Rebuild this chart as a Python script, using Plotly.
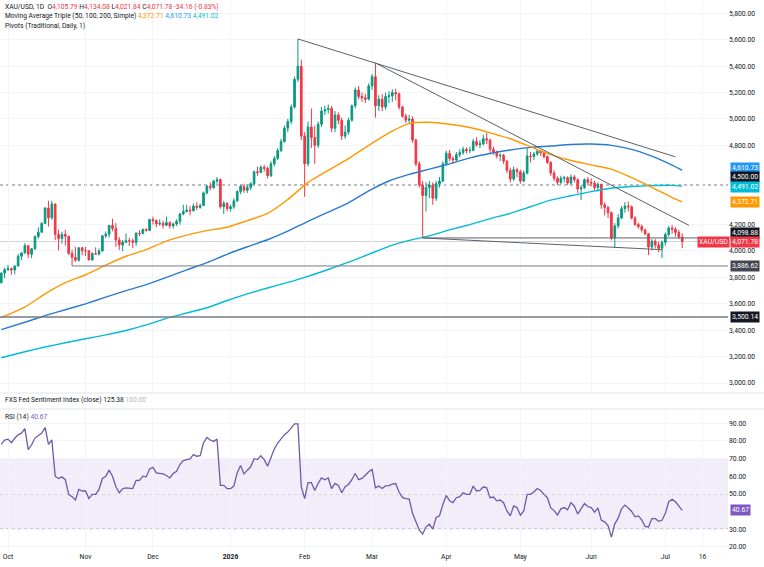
import pandas as pd
import plotly.graph_objects as go

# XAU/USD daily candles, Sep 29 2025 -> Jul 8 2026 (one value per trading day)
opens = [
    3760, 3833,
    # Oct
    3858, 3866, 3856, 3886, 3960, 3985, 4040, 3975, 4017, 4110, 4142, 4209, 4326, 4251, 4356, 4125, 4095, 4126, 4112, 3982, 3952, 3930, 4024,
    # Nov
    4002, 4001, 3932, 3980, 3977, 4000, 4115, 4127, 4194, 4171, 4084, 4045, 4066, 4078, 4077, 4065, 4135, 4131, 4164, 4156,
    # Dec
    4239, 4230, 4205, 4210, 4195, 4215, 4190, 4205, 4225, 4280, 4300, 4310, 4305, 4340, 4330, 4345, 4440, 4490, 4480, 4530, 4540, 4335, 4360,
    # Jan
    4320, 4335, 4380, 4450, 4490, 4460, 4480, 4510, 4600, 4595, 4635, 4625, 4570, 4660, 4700, 4760, 4830, 4930, 4980, 5090, 5300, 5400,
    # Feb
    4870, 4660, 4940, 4860, 4800, 4960, 5060, 5070, 5080, 4930, 5030, 4990, 4870, 4900, 4990, 5100, 5220, 5170, 5160, 5150,
    # Mar
    5250, 5320, 5100, 5150, 5090, 5170, 5175, 5200, 5190, 5090, 5020, 4990, 5000, 4840, 4660, 4500, 4420, 4480, 4500, 4400, 4510, 4530,
    # Apr
    4660, 4740, 4700, 4690, 4730, 4745, 4770, 4760, 4762, 4830, 4805, 4812, 4850, 4840, 4770, 4750, 4720, 4725, 4680, 4610, 4545, 4615,
    # May
    4600, 4530, 4590, 4720, 4715, 4735, 4755, 4745, 4715, 4670, 4590, 4550, 4520, 4550, 4555, 4515, 4560, 4540, 4470, 4480, 4540,
    # Jun
    4520, 4515, 4480, 4505, 4350, 4330, 4290, 4100, 4190, 4250, 4320, 4340, 4335, 4250, 4200, 4185, 4160, 4130, 4030, 4075, 4045, 4020,
    # Jul
    4065, 4125, 4175, 4165, 4140, 4105.79,
]
highs = [
    3836, 3872,
    3895, 3875, 3890, 3978, 3990, 4059, 4045, 4022, 4116, 4179, 4218, 4330, 4380, 4381, 4359, 4161, 4147, 4161, 4113, 4010, 4030, 4030, 4031,
    4030, 4005, 3990, 4028, 4020, 4118, 4148, 4196, 4245, 4211, 4106, 4083, 4133, 4100, 4094, 4141, 4157, 4170, 4172, 4240,
    4260, 4240, 4240, 4230, 4260, 4225, 4215, 4240, 4290, 4350, 4350, 4340, 4360, 4370, 4360, 4450, 4500, 4520, 4540, 4560, 4550, 4380, 4370,
    4350, 4400, 4460, 4500, 4510, 4500, 4520, 4610, 4640, 4650, 4650, 4640, 4680, 4720, 4780, 4850, 4950, 5000, 5110, 5320, 5606, 5450,
    4900, 4980, 5080, 4950, 4980, 5090, 5100, 5110, 5100, 5060, 5050, 5010, 4950, 5010, 5110, 5240, 5250, 5200, 5190, 5270,
    5340, 5424, 5180, 5190, 5200, 5210, 5225, 5230, 5200, 5100, 5040, 5030, 5020, 4850, 4680, 4530, 4520, 4530, 4520, 4530, 4560, 4680,
    4760, 4765, 4720, 4750, 4770, 4790, 4785, 4790, 4850, 4860, 4840, 4880, 4894, 4850, 4790, 4760, 4740, 4735, 4690, 4630, 4640, 4630,
    4615, 4610, 4780, 4750, 4750, 4770, 4765, 4755, 4725, 4680, 4610, 4565, 4570, 4570, 4565, 4580, 4575, 4550, 4500, 4550, 4560,
    4550, 4530, 4520, 4510, 4370, 4340, 4300, 4210, 4280, 4340, 4370, 4375, 4345, 4265, 4215, 4200, 4170, 4135, 4090, 4090, 4070, 4080,
    4140, 4190, 4197, 4180, 4160, 4134.08,
]
lows = [
    3755, 3793,
    3850, 3820, 3823, 3884, 3932, 3980, 3946, 3945, 4008, 4094, 4140, 4202, 4185, 4237, 4082, 4004, 4055, 4041, 3971, 3886.62, 3918, 3920, 3967,
    3962, 3930, 3928, 3970, 3966, 3995, 4099, 4102, 4150, 4032, 4008, 3998, 4060, 4038, 4022, 4040, 4113, 4130, 4147, 4150,
    4200, 4180, 4190, 4170, 4190, 4170, 4170, 4190, 4200, 4270, 4290, 4270, 4300, 4310, 4320, 4340, 4430, 4460, 4470, 4510, 4320, 4280, 4300,
    4300, 4320, 4370, 4430, 4440, 4440, 4460, 4500, 4570, 4590, 4600, 4550, 4560, 4640, 4690, 4750, 4820, 4900, 4960, 5080, 5280, 4840,
    4410, 4640, 4780, 4660, 4780, 4940, 5030, 5040, 4900, 4900, 4960, 4840, 4850, 4880, 4980, 5080, 5150, 5130, 5120, 5140,
    5220, 5010, 5060, 5060, 5070, 5120, 5130, 5140, 5070, 5010, 4970, 4970, 4820, 4640, 4480, 4098.88, 4300, 4400, 4350, 4380, 4480, 4520,
    4650, 4680, 4660, 4680, 4710, 4730, 4740, 4740, 4755, 4790, 4780, 4800, 4810, 4740, 4730, 4700, 4680, 4660, 4590, 4520, 4530, 4560,
    4510, 4520, 4580, 4670, 4690, 4720, 4720, 4700, 4660, 4570, 4530, 4500, 4505, 4520, 4500, 4505, 4520, 4440, 4386, 4470, 4500,
    4490, 4460, 4450, 4320, 4270, 4250, 4080, 4023, 4170, 4240, 4290, 4300, 4240, 4190, 4170, 4140, 4120, 3970, 4005, 4020, 3990, 3947,
    4040, 4110, 4130, 4110, 4090, 4021.84,
]
closes = [
    3833, 3858,
    3866, 3856, 3886, 3960, 3985, 4040, 3975, 4017, 4110, 4142, 4209, 4326, 4251, 4356, 4125, 4095, 4126, 4112, 3982, 3952, 3930, 4024, 4002,
    4001, 3932, 3980, 3977, 4000, 4115, 4127, 4194, 4171, 4084, 4045, 4066, 4078, 4077, 4065, 4135, 4131, 4164, 4156, 4239,
    4230, 4205, 4210, 4195, 4215, 4190, 4205, 4225, 4280, 4300, 4310, 4305, 4340, 4330, 4345, 4440, 4490, 4480, 4530, 4540, 4335, 4360, 4320,
    4335, 4380, 4450, 4490, 4460, 4480, 4510, 4600, 4595, 4635, 4625, 4570, 4660, 4700, 4760, 4830, 4930, 4980, 5090, 5300, 5400, 4870,
    4660, 4940, 4860, 4800, 4960, 5060, 5070, 5080, 4930, 5030, 4990, 4870, 4900, 4990, 5100, 5220, 5170, 5160, 5150, 5250,
    5320, 5100, 5150, 5090, 5170, 5175, 5200, 5190, 5090, 5020, 4990, 5000, 4840, 4660, 4500, 4420, 4480, 4500, 4400, 4510, 4530, 4660,
    4740, 4700, 4690, 4730, 4745, 4770, 4760, 4762, 4830, 4805, 4812, 4850, 4840, 4770, 4750, 4720, 4725, 4680, 4610, 4545, 4615, 4600,
    4530, 4590, 4720, 4715, 4735, 4755, 4745, 4715, 4670, 4590, 4550, 4520, 4550, 4555, 4515, 4560, 4540, 4470, 4480, 4540, 4520,
    4515, 4480, 4505, 4350, 4330, 4290, 4100, 4190, 4250, 4320, 4340, 4335, 4250, 4200, 4185, 4160, 4130, 4030, 4075, 4045, 4020, 4065,
    4125, 4175, 4165, 4140, 4105.79, 4071.78,
]

# RSI(14), one value per candle
rsi = [
    78, 80.5,
    81, 79, 81.5, 83.4, 84.4, 87, 75, 77.8, 81.6, 82.9, 84.4, 87.6, 78, 80.6, 60, 58.7, 59.6, 58, 49.7, 48.4, 46.5, 52.5, 51.6,
    51.6, 47.3, 49.7, 49.7, 52.5, 58.7, 60, 63.4, 60, 54, 50.6, 52.9, 53.4, 53.2, 53, 57.6, 57.6, 60, 59.6, 64.1,
    65, 61.9, 61.5, 61.3, 60.4, 59, 61.5, 62.8, 66.6, 68.8, 69.4, 69.8, 72.2, 71.3, 71.6, 79, 81.9, 80.5, 79.7, 81, 54.8, 54.8, 52.9,
    52.9, 54.4, 62, 66, 61.3, 63.4, 65.3, 69.9, 69.4, 71.6, 69.4, 65.6, 70.3, 75.4, 78.8, 81.5, 83.5, 85, 87.2, 89.6, 89.6, 54,
    47.3, 56.3, 56.3, 51.9, 55.9, 59, 58, 59, 52.9, 55.9, 54.8, 50.6, 54, 55.3, 58, 61.5, 58, 58.7, 60.5, 62.5,
    63.8, 53.4, 54.4, 53, 54.5, 54.6, 55.5, 55.8, 51, 48, 47.3, 47, 39, 34, 29.5, 27.2, 31.3, 32.8, 30, 36.6, 37.5, 44,
    49.1, 46, 45, 47.8, 48.4, 50.6, 49.7, 49.7, 54.4, 51.6, 51.9, 54, 53.4, 47.8, 48.2, 46, 46.5, 45, 40.3, 37.5, 43.1, 42.2,
    37.9, 40.3, 49.7, 49.7, 51, 53, 51.9, 49.7, 47.8, 42, 40.5, 38, 41.5, 42.2, 41, 45, 43, 38.5, 41.3, 44.5, 42.8,
    42.2, 39.6, 42, 35, 34.1, 32, 25.5, 33, 36.2, 41.5, 43.6, 42, 40, 37, 37.5, 35.2, 31.5, 31.2, 36, 36, 34.4, 35,
    39, 45.5, 46.9, 45.5, 43, 40.67,
]

# moving averages at every 6th candle (bar position in the lists above)
ma_bar = [0, 7, 13, 19, 25, 31, 37, 43, 49, 55, 61, 67, 73, 79, 85, 91, 97, 103, 109, 115,
          121, 127, 133, 139, 145, 151, 157, 163, 169, 175, 181, 187, 193, 199, 202]
ma50 = [3496, 3575, 3675, 3760, 3820, 3893, 3960, 4010, 4075, 4120,
        4154, 4180, 4230, 4285, 4390, 4520, 4610, 4700, 4800, 4895,
        4965, 4975, 4960, 4935, 4895, 4850, 4790, 4730, 4685, 4652,
        4620, 4555, 4482, 4405, 4372.71]
ma100 = [3405, 3460, 3510, 3555, 3600, 3650, 3700, 3745, 3800, 3857,
         3912, 3975, 4032, 4085, 4150, 4225, 4295, 4365, 4455, 4530,
         4580, 4620, 4660, 4705, 4738, 4765, 4785, 4795, 4807, 4810,
         4800, 4770, 4718, 4650, 4610.73]
ma200 = [3191, 3237, 3273, 3305, 3335, 3365, 3398, 3440, 3490, 3530,
         3570, 3625, 3675, 3720, 3762, 3808, 3860, 3915, 3975, 4035,
         4080, 4115, 4160, 4200, 4245, 4285, 4335, 4385, 4418, 4450,
         4475, 4488, 4495, 4497, 4491.02]

# drawn lines: (bar position, price)
trend_lines = [
    [(88, 5606), (200, 4713)],
    [(111, 5424), (204, 4194)],
    [(125, 4098.88), (196, 4010)],
]
level_4500 = 4500.00
level_mar_low = 4098.88
level_oct_low = 3886.62
level_3500 = 3500.14

price_ticks = [3000, 3200, 3400, 3600, 3800, 4000, 4200, 4800, 5000, 5200, 5400, 5600, 5800]
rsi_ticks = [20, 30, 50, 60, 70, 80, 90]
x_tick_bars = [2, 25, 45, 68, 90, 110, 132, 154, 175, 197, 208]
x_tick_text = ["Oct", "Nov", "Dec", "<b>2026</b>", "Feb", "Mar", "Apr", "May", "Jun", "Jul", "16"]

UP, DOWN = "#089981", "#F23645"
C50, C100, C200 = "#FF9800", "#2196F3", "#00BCD4"
C100_LINE = "#2A7BCE"
PURPLE = "#7E57C2"
TXT = "#131722"
GRID = "#F2F4F8"
FONT = "Roboto"
FS = 6.7      # header texts
FS_AX = 6.8   # scale labels

days = pd.bdate_range("2025-09-29", periods=240)
bar_dates = days[:len(closes)]


def d(k):
    return days[k].strftime("%Y-%m-%d")


x_start = (days[0] - pd.Timedelta(days=3) + pd.Timedelta(hours=15)).strftime("%Y-%m-%d %H:%M")
x_end = (days[215] + pd.Timedelta(hours=14)).strftime("%Y-%m-%d %H:%M")

PLOT_H = 567 - 16
PLOT_W = 764 - 36


def py(p):
    return 1 - p / PLOT_H


def px(p):
    return p / PLOT_W


fig = go.Figure()

fig.add_trace(go.Candlestick(
    x=bar_dates, open=opens, high=highs, low=lows, close=closes,
    increasing=dict(line=dict(color=UP, width=1), fillcolor=UP),
    decreasing=dict(line=dict(color=DOWN, width=1), fillcolor=DOWN),
    whiskerwidth=0, xaxis="x", yaxis="y", showlegend=False, hoverinfo="skip"
))

ma_dates = [bar_dates[k] for k in ma_bar]
for vals, col in [(ma200, C200), (ma100, C100_LINE), (ma50, C50)]:
    fig.add_trace(go.Scatter(
        x=ma_dates, y=vals, mode="lines",
        line=dict(color=col, width=1.4, shape="spline", smoothing=0.6),
        xaxis="x", yaxis="y", showlegend=False, hoverinfo="skip"
    ))

fig.add_trace(go.Scatter(
    x=bar_dates, y=rsi, mode="lines", line=dict(color="#6F5AA8", width=1.3),
    xaxis="x2", yaxis="y2", showlegend=False, hoverinfo="skip"
))

shapes = []
# horizontal levels
shapes.append(dict(type="line", xref="paper", yref="y", x0=0, x1=1, y0=level_4500, y1=level_4500,
                   line=dict(color="#787B86", width=1, dash="dot"), layer="below"))
shapes.append(dict(type="line", xref="paper", yref="y", x0=0, x1=1, y0=closes[-1], y1=closes[-1],
                   line=dict(color="#D1D4DC", width=1), layer="below"))
shapes.append(dict(type="line", xref="x", yref="y", x0=d(125), x1=x_end, y0=level_mar_low, y1=level_mar_low,
                   line=dict(color="#5D606B", width=1)))
shapes.append(dict(type="line", xref="x", yref="y", x0=d(21), x1=x_end, y0=level_oct_low, y1=level_oct_low,
                   line=dict(color="#787B86", width=1)))
shapes.append(dict(type="line", xref="paper", yref="y", x0=0, x1=1, y0=level_3500, y1=level_3500,
                   line=dict(color="#787B86", width=1.6)))
for (k0, p0), (k1, p1) in trend_lines:
    shapes.append(dict(type="line", xref="x", yref="y", x0=d(k0), y0=p0, x1=d(k1), y1=p1,
                       line=dict(color="#5D606B", width=1)))

# RSI band and levels
shapes.append(dict(type="rect", xref="paper", yref="y2", x0=0, x1=1, y0=30, y1=70,
                   fillcolor="rgba(126,87,194,0.1)", line=dict(width=0), layer="below"))
for lvl in (70, 50, 30):
    shapes.append(dict(type="line", xref="paper", yref="y2", x0=0, x1=1, y0=lvl, y1=lvl,
                       line=dict(color="#9598A1", width=1, dash="3px,3px"), layer="below"))

# pane separators
for sep in (393, 409):
    shapes.append(dict(type="line", xref="paper", yref="paper", x0=0, x1=764 / PLOT_W,
                       y0=py(sep), y1=py(sep), line=dict(color="#E0E3EB", width=1)))


def span(txt, col):
    return "<span style='color:%s'>%s</span>" % (col, txt)


annotations = []
header = [
    (7, "XAU/USD, 1D  O" + span("4,105.79", DOWN) + " H" + span("4,134.08", DOWN)
     + " L" + span("4,021.84", DOWN) + " C" + span("4,071.78", DOWN) + " " + span("-34.16 (-0.83%)", DOWN)),
    (16.5, "Moving Average Triple (50, 100, 200, Simple) " + span("4,372.71", C50) + " "
     + span("4,610.73", C100) + " " + span("4,491.02", C200)),
    (26, "Pivots (Traditional, Daily, 1)"),
    (400, "FXS Fed Sentiment Index (close) " + span("125.38", TXT) + " " + span("100.00", "#B2B5BE")),
    (417, "RSI (14) " + span("40.67", PURPLE)),
]
for y, txt in header:
    annotations.append(dict(xref="paper", yref="paper", x=px(3), y=py(y), xanchor="left", yanchor="middle",
                            text=txt, showarrow=False, font=dict(family=FONT, size=FS, color=TXT)))

# price scale value boxes: (value, colour, shift in px)
value_boxes = [
    (4610.73, C100, 2), (4500.00, TXT, 8), (4491.02, C200, -1), (4372.71, C50, 0),
    (4098.88, TXT, 5), (closes[-1], DOWN, 0), (3886.62, "#434651", 0), (3500.14, TXT, 0),
]
for val, col, sh in value_boxes:
    annotations.append(dict(xref="paper", yref="y", x=px(730), y=val, yshift=sh, xanchor="left",
                            yanchor="middle", text="{:,.2f}".format(val), showarrow=False,
                            bgcolor=col, borderpad=1, font=dict(family=FONT, size=FS_AX, color="white")))
annotations.append(dict(xref="paper", yref="y", x=px(730), y=closes[-1], xanchor="right", yanchor="middle",
                        text="XAU/USD", showarrow=False, bgcolor=DOWN, borderpad=1,
                        font=dict(family=FONT, size=FS_AX, color="white")))
annotations.append(dict(xref="paper", yref="y2", x=px(730), y=rsi[-1], xanchor="left", yanchor="middle",
                        text="{:.2f}".format(rsi[-1]), showarrow=False, bgcolor=PURPLE, borderpad=1,
                        font=dict(family=FONT, size=FS_AX, color="white")))

tickvals = [d(k) for k in x_tick_bars]
breaks = [dict(bounds=["sat", "mon"])]

fig.update_layout(
    width=764, height=567,
    margin=dict(l=0, r=36, t=0, b=16),
    paper_bgcolor="white", plot_bgcolor="white",
    font=dict(family=FONT, size=FS_AX, color=TXT),
    showlegend=False, hovermode=False,
    xaxis=dict(type="date", range=[x_start, x_end], rangebreaks=breaks, anchor="y",
               matches="x2", showticklabels=False, tickvals=tickvals, showgrid=True,
               gridcolor=GRID, zeroline=False, rangeslider=dict(visible=False)),
    xaxis2=dict(type="date", range=[x_start, x_end], rangebreaks=breaks, anchor="y2",
                tickvals=tickvals, ticktext=x_tick_text, showgrid=True, gridcolor=GRID,
                ticks="", zeroline=False, tickfont=dict(family=FONT, size=FS_AX, color=TXT)),
    yaxis=dict(domain=[py(392), 1], range=[2932, 5901], side="right", tickvals=price_ticks,
               tickformat=",.2f", showgrid=True, gridcolor=GRID, zeroline=False, ticks="",
               anchor="x", tickfont=dict(family=FONT, size=FS_AX, color=TXT)),
    yaxis2=dict(domain=[0, py(410)], range=[17.6, 97.5], side="right",
                tickvals=rsi_ticks, tickformat=".2f", showgrid=True,
                gridcolor=GRID, zeroline=False, ticks="", anchor="x2",
                tickfont=dict(family=FONT, size=FS_AX, color=TXT)),
    shapes=shapes,
    annotations=annotations,
)

fig.write_html("out.html", config={"displayModeBar": False},
               post_script="document.body.style.margin='0';document.body.style.overflow='hidden';")
